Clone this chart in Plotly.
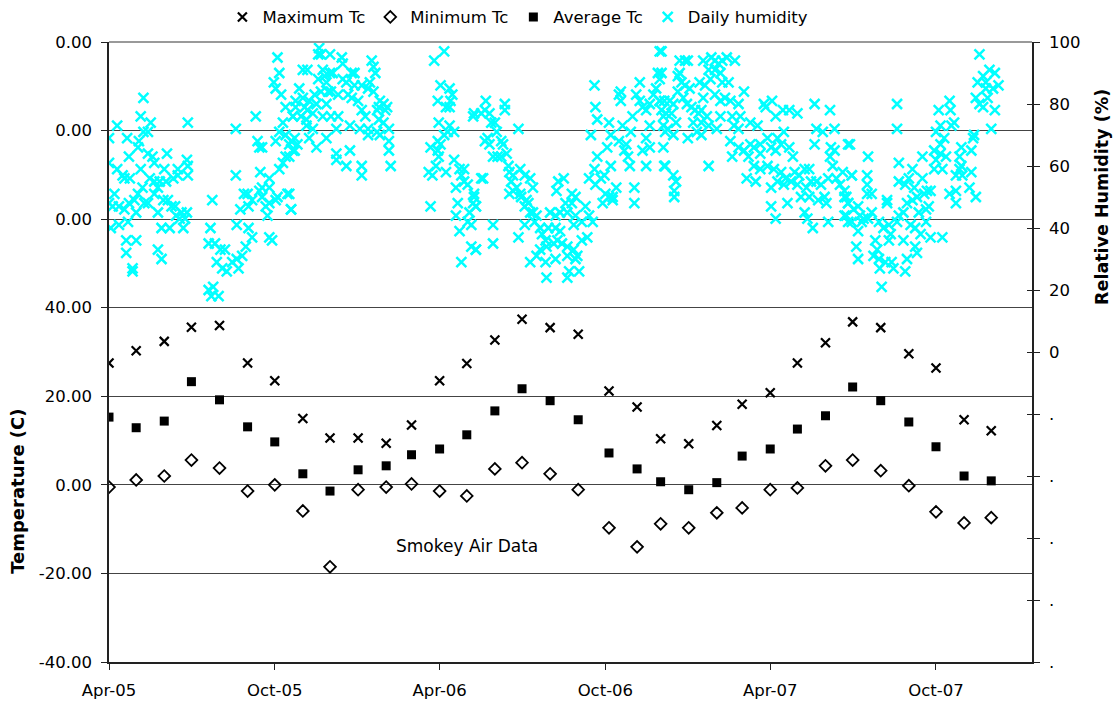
import pandas as pd
import plotly.graph_objects as go

FONT = "DejaVu Sans, Verdana, sans-serif"

# Monthly temperature summary (first reading of each month)
month_dates = [
    "2005-04-01", "2005-05-01", "2005-06-01", "2005-07-01", "2005-08-01", "2005-09-01",
    "2005-10-01", "2005-11-01", "2005-12-01", "2006-01-01", "2006-02-01", "2006-03-01",
    "2006-04-01", "2006-05-01", "2006-06-01", "2006-07-01", "2006-08-01", "2006-09-01",
    "2006-10-05", "2006-11-05", "2006-12-01", "2007-01-01", "2007-02-01", "2007-03-01",
    "2007-04-01", "2007-05-01", "2007-06-01", "2007-07-01", "2007-08-01", "2007-09-01",
    "2007-10-01", "2007-11-01", "2007-12-01",
]
max_tc = [27.5, 30.3, 32.4, 35.6, 36.0, 27.5, 23.5, 15.0, 10.6, 10.6, 9.4, 13.5,
          23.5, 27.4, 32.7, 37.4, 35.5, 34.0, 21.2, 17.6, 10.4, 9.3, 13.4, 18.2,
          20.8, 27.5, 32.1, 36.8, 35.5, 29.6, 26.4, 14.7, 12.2]
min_tc = [-0.5, 1.1, 2.0, 5.6, 3.8, -1.4, 0.0, -5.9, -18.5, -1.1, -0.5, 0.2,
          -1.4, -2.5, 3.6, 5.0, 2.5, -1.1, -9.7, -14.0, -8.8, -9.7, -6.3, -5.2,
          -1.1, -0.7, 4.3, 5.6, 3.2, -0.2, -6.1, -8.6, -7.4]
avg_tc = [15.3, 12.9, 14.4, 23.3, 19.2, 13.1, 9.7, 2.5, -1.4, 3.4, 4.3, 6.8,
          8.1, 11.3, 16.7, 21.7, 19.0, 14.7, 7.2, 3.6, 0.7, -1.1, 0.5, 6.5,
          8.1, 12.6, 15.6, 22.1, 19.0, 14.2, 8.6, 2.0, 0.9]

# Daily relative humidity readings: (days since 2005-04-01, RH %)
humidity_start = "2005-04-01"
rh_2005a = [
    (0, 69), (9, 73), (20, 69), (38, 82), (35, 76), (46, 74), (38, 71), (43, 71), (87, 74), (33, 68),
    (32, 66), (22, 63), (43, 64), (48, 63), (50, 61), (64, 64), (0, 61), (9, 59), (15, 57), (17, 56),
    (23, 56), (35, 59), (45, 56), (50, 55), (61, 59), (76, 59), (86, 62), (87, 60), (87, 57), (76, 57),
    (71, 56), (63, 55), (56, 55), (54, 53), (50, 51), (37, 53), (32, 51), (28, 49), (22, 48), (6, 51),
    (0, 48), (4, 47), (11, 47), (17, 46), (30, 45), (43, 48), (39, 48), (54, 45), (60, 49), (65, 49),
    (69, 47), (73, 47), (74, 44), (80, 45), (84, 43), (86, 45), (78, 43), (82, 40), (58, 40), (67, 40),
    (2, 40), (11, 41), (21, 42), (19, 36), (30, 36), (19, 32), (26, 27), (26, 26), (54, 33), (58, 30),
    (114, 49), (112, 40), (110, 35), (117, 35), (123, 33), (128, 33), (119, 29), (125, 27), (130, 26),
    (136, 29), (141, 30), (147, 31), (143, 27), (151, 34), (158, 37), (154, 40), (141, 41), (145, 46),
    (154, 47), (149, 51), (153, 51), (158, 49), (166, 52), (169, 50), (177, 48), (184, 49), (173, 47),
    (175, 44), (140, 57), (140, 72), (164, 68), (166, 66), (169, 66), (167, 58), (177, 56), (169, 53),
    (177, 53), (186, 50), (197, 51), (201, 46), (177, 37), (180, 36), (186, 95), (188, 90), (182, 87),
    (184, 85), (190, 83), (195, 79), (162, 76), (192, 74), (203, 76), (188, 71), (195, 70), (184, 68),
    (199, 67), (203, 65), (195, 63), (192, 61), (188, 59), (199, 63), (110, 20), (115, 21), (121, 18),
    (113, 18),
]
rh_2005b = [
    (232, 98), (234, 96), (231, 96), (244, 96), (257, 95), (258, 93), (214, 91), (219, 91), (236, 91),
    (244, 90), (238, 89), (247, 90), (231, 88), (240, 87), (258, 88), (268, 90), (271, 90), (262, 87),
    (271, 86), (290, 94), (292, 92), (294, 90), (288, 87), (279, 86), (286, 85), (210, 85), (206, 81),
    (214, 82), (221, 81), (227, 83), (234, 84), (242, 84), (245, 84), (229, 80), (240, 80), (253, 83),
    (264, 83), (268, 82), (275, 81), (292, 84), (299, 81), (307, 79), (303, 80), (298, 79), (206, 79),
    (216, 79), (219, 78), (225, 77), (212, 76), (218, 75), (203, 76), (236, 76), (245, 76), (253, 76),
    (279, 78), (283, 76), (296, 78), (305, 78), (298, 75), (303, 74), (218, 73), (225, 72), (251, 72),
    (266, 73), (277, 72), (286, 72), (296, 71), (309, 72), (205, 69), (201, 68), (208, 67), (205, 65),
    (221, 69), (240, 69), (229, 66), (286, 70), (299, 70), (309, 68), (251, 64), (266, 65), (251, 62),
    (262, 60), (279, 60), (279, 57), (309, 65), (311, 60), (199, 51), (201, 46),
]
rh_2006a = [
    (370, 97), (359, 94), (366, 86), (376, 85), (379, 83), (363, 81), (377, 81), (376, 79), (372, 79),
    (402, 76), (364, 74), (376, 73), (374, 71), (381, 71), (370, 70), (363, 68), (366, 67), (355, 66),
    (363, 65), (364, 63), (381, 62), (361, 60), (353, 58), (372, 58), (357, 57), (387, 59), (392, 59),
    (389, 57), (392, 55), (396, 54), (383, 53), (403, 51), (385, 48), (402, 48), (405, 47), (398, 45),
    (383, 44), (396, 42), (400, 41), (387, 39), (355, 47), (400, 34), (405, 33), (389, 29), (411, 56),
    (403, 77), (411, 77), (416, 81), (415, 78), (420, 77), (422, 74), (426, 74), (428, 71), (418, 69),
    (415, 68), (420, 67), (433, 68), (437, 80), (437, 78), (452, 72), (435, 67), (424, 63), (429, 63),
    (433, 63), (439, 64), (441, 60), (442, 58), (454, 59), (446, 57), (444, 55), (459, 57), (465, 56),
    (468, 53), (450, 53), (446, 52), (442, 51), (454, 51), (455, 50), (461, 49), (463, 48), (459, 47),
    (465, 45), (468, 45), (472, 44), (413, 56), (403, 50), (405, 47), (424, 41), (424, 35), (405, 33),
]
rh_2006b = [
    (452, 37), (459, 41), (470, 42), (476, 40), (478, 38), (482, 36), (483, 34), (487, 45), (493, 44),
    (485, 40), (493, 40), (498, 39), (495, 36), (491, 35), (500, 35), (506, 34), (476, 33), (472, 31),
    (465, 29), (482, 29), (493, 30), (506, 31), (513, 33), (517, 31), (522, 36), (528, 37), (515, 30),
    (519, 26), (508, 26), (506, 24), (483, 24), (496, 55), (502, 56), (494, 52), (511, 51), (515, 50),
    (504, 48), (498, 45), (511, 48), (506, 45), (515, 44), (526, 47), (530, 44), (522, 42), (534, 42),
    (513, 41), (536, 86), (537, 79), (539, 75), (532, 70), (539, 63), (536, 59), (530, 56), (537, 54),
    (543, 56), (547, 57), (554, 60), (550, 66), (554, 70), (552, 74), (563, 83), (565, 84), (565, 81),
    (567, 73), (563, 68), (571, 67), (569, 65), (573, 63), (575, 60), (580, 53), (580, 48), (548, 51),
    (552, 50), (545, 48), (556, 50), (560, 53), (556, 49), (576, 71), (582, 83), (586, 87), (586, 81),
    (589, 79), (593, 78), (597, 73), (593, 69), (589, 65), (593, 60), (597, 66), (606, 90), (608, 88),
    (604, 85), (601, 83), (608, 81), (597, 80), (610, 78), (612, 76), (610, 97), (614, 71), (614, 60),
    (578, 76),
]
rh_2007a = [
    (608, 97), (610, 90), (608, 81), (613, 81), (619, 81), (623, 80), (615, 77), (621, 77), (626, 74),
    (612, 73), (617, 72), (623, 70), (612, 66), (630, 94), (636, 94), (639, 94), (630, 90), (628, 89),
    (632, 87), (636, 86), (628, 84), (641, 85), (634, 82), (638, 80), (643, 79), (647, 78), (651, 77),
    (654, 78), (656, 94), (665, 95), (669, 94), (673, 93), (677, 94), (682, 95), (691, 94), (662, 91),
    (669, 91), (675, 90), (664, 88), (677, 87), (684, 87), (652, 87), (658, 86), (656, 82), (669, 83),
    (675, 81), (680, 82), (686, 81), (695, 80), (701, 84), (660, 76), (654, 74), (675, 76), (662, 73),
    (671, 72), (645, 74), (649, 71), (654, 70), (639, 69), (613, 60), (623, 57), (626, 55), (624, 52),
    (624, 50), (662, 60), (688, 76), (697, 76), (690, 73), (695, 72), (708, 74), (716, 73), (723, 80),
    (732, 81), (725, 79), (736, 76), (744, 78), (751, 78), (760, 77), (779, 80), (796, 78), (801, 72),
    (781, 72), (788, 71), (779, 67), (797, 66), (801, 65), (796, 63), (799, 60), (810, 58), (816, 67),
    (686, 68), (688, 63), (695, 66), (701, 65), (708, 67), (706, 63), (712, 66), (719, 67), (719, 64),
    (727, 69), (731, 66), (738, 69), (736, 65), (742, 67), (745, 71), (751, 66), (755, 63), (712, 60),
    (719, 59), (727, 60), (734, 59), (742, 58), (747, 56), (757, 58), (762, 57), (768, 59), (773, 59),
    (704, 56), (714, 55), (731, 53), (738, 55), (745, 54), (753, 55), (760, 54), (770, 53), (775, 55),
    (781, 55), (786, 54), (794, 56), (803, 56), (764, 50), (773, 50), (783, 49), (790, 50), (792, 48),
    (807, 54), (812, 52), (814, 50), (816, 48), (731, 47), (736, 43), (749, 48), (768, 45), (771, 43),
    (777, 40), (794, 42), (812, 44), (816, 42), (820, 57),
]
rh_2007b = [
    (812, 50), (816, 48), (822, 46), (827, 47), (829, 44), (814, 44), (820, 42), (831, 42), (827, 39),
    (833, 43), (838, 43), (842, 45), (837, 51), (842, 51), (818, 67), (820, 57), (838, 63), (837, 57),
    (837, 54), (825, 34), (827, 30), (846, 36), (848, 33), (844, 31), (850, 30), (851, 27), (857, 29),
    (861, 36), (863, 38), (866, 27), (864, 29), (853, 21), (879, 26), (881, 30), (877, 36), (870, 42),
    (850, 42), (855, 40), (861, 41), (872, 44), (877, 45), (885, 41), (890, 40), (890, 34), (892, 32),
    (896, 38), (907, 37), (920, 37), (902, 42), (870, 80), (870, 72), (872, 61), (872, 55), (879, 54),
    (883, 56), (887, 59), (889, 53), (859, 49), (859, 48), (881, 48), (887, 49), (892, 50), (894, 45),
    (902, 46), (905, 47), (898, 56), (900, 51), (903, 52), (907, 52), (898, 63), (911, 65), (918, 64),
    (913, 62), (911, 59), (920, 59), (924, 63), (918, 67), (913, 71), (918, 73), (922, 69), (916, 78),
    (928, 81), (929, 78), (930, 73), (933, 74), (941, 66), (939, 63), (939, 59), (935, 57), (942, 57),
    (941, 60), (952, 58), (935, 52), (935, 48), (928, 51), (950, 53), (957, 50), (952, 65), (954, 69),
    (955, 70), (961, 96), (959, 87), (965, 89), (968, 87), (972, 91), (978, 90), (968, 85), (976, 85),
    (982, 86), (957, 82), (961, 80), (965, 79), (970, 82), (978, 78), (974, 72),
]

temp_ticks = [-40, -20, 0, 20, 40, 60, 80, 100]
temp_tick_text = ["-40.00", "-20.00", "0.00", "20.00", "40.00", "0.00", "0.00", "0.00"]
rh_ticks = [-100, -80, -60, -40, -20, 0, 20, 40, 60, 80, 100]
rh_tick_text = [".", ".", ".", ".", ".", "0", "20", "40", "60", "80", "100"]
date_ticks = ["2005-04-01", "2005-10-01", "2006-04-01", "2006-10-01", "2007-04-01", "2007-10-01"]
date_tick_text = ["Apr-05", "Oct-05", "Apr-06", "Oct-06", "Apr-07", "Oct-07"]

# Combine the humidity chunks into dated series
rh_pairs = rh_2005a + rh_2005b + rh_2006a + rh_2006b + rh_2007a + rh_2007b
rh_dates = [pd.Timestamp(humidity_start) + pd.Timedelta(days=d) for d, _ in rh_pairs]
rh_values = [v for _, v in rh_pairs]
months = pd.to_datetime(month_dates)

fig = go.Figure()
fig.add_trace(go.Scatter(
    x=months, y=max_tc, mode="markers", name="Maximum Tc",
    marker=dict(symbol="x-thin", size=9, color="black", line=dict(color="black", width=2.2)),
))
fig.add_trace(go.Scatter(
    x=months, y=min_tc, mode="markers", name="Minimum Tc",
    marker=dict(symbol="diamond-open", size=9, color="black", line=dict(color="black", width=1.8)),
))
fig.add_trace(go.Scatter(
    x=months, y=avg_tc, mode="markers", name="Average Tc",
    marker=dict(symbol="square", size=9, color="black"),
))
fig.add_trace(go.Scatter(
    x=rh_dates, y=rh_values, mode="markers", name="Daily humidity", yaxis="y2",
    marker=dict(symbol="x-thin", size=10, color="#00FFFF", line=dict(color="#00FFFF", width=2.5)),
))
# carrier for the inner tick marks on the humidity axis
fig.add_trace(go.Scatter(x=[], y=[], yaxis="y3", showlegend=False, hoverinfo="skip"))

fig.update_layout(
    width=1115, height=702,
    margin=dict(l=109, r=83, t=42, b=40, autoexpand=False),
    paper_bgcolor="white", plot_bgcolor="white",
    font=dict(family=FONT, size=16.5, color="black"),
    showlegend=True,
    legend=dict(
        orientation="h", x=0.443, xanchor="center", y=1.04, yanchor="middle",
        font=dict(family=FONT, size=16.5), itemwidth=30, bgcolor="rgba(0,0,0,0)",
        tracegroupgap=0,
    ),
    xaxis=dict(
        type="date", range=["2005-04-01", "2008-01-15"],
        tickvals=date_ticks, ticktext=date_tick_text,
        ticks="outside", ticklen=6, tickcolor="#222", ticklabelstandoff=6,
        showgrid=False, zeroline=False, automargin=False,
        showline=True, linecolor="#222", linewidth=1.5,
    ),
    yaxis=dict(
        range=[-40, 100], tickvals=temp_ticks, ticktext=temp_tick_text,
        ticks="outside", ticklen=6, tickcolor="#222", ticklabelstandoff=6,
        showgrid=True, gridcolor="#444", gridwidth=1, zeroline=False, automargin=False,
        showline=True, linecolor="#222", linewidth=1.5,
    ),
    yaxis2=dict(
        range=[-100, 100], tickvals=rh_ticks, ticktext=rh_tick_text,
        overlaying="y", side="right", anchor="x",
        ticks="outside", ticklen=6, tickcolor="#222", ticklabelstandoff=6,
        showgrid=False, zeroline=False, automargin=False,
        showline=True, linecolor="#222", linewidth=1.5,
    ),
    yaxis3=dict(
        range=[-100, 100], tickvals=rh_ticks,
        overlaying="y", side="right", anchor="x",
        ticks="inside", ticklen=5, tickcolor="#222", automargin=False,
        showticklabels=False, showgrid=False, zeroline=False, showline=False,
    ),
    shapes=[dict(
        type="line", xref="paper", yref="paper", x0=0, x1=1, y0=1, y1=1,
        line=dict(color="#999", width=2),
    )],
    annotations=[
        dict(text="<b>Temperature (C)</b>", xref="paper", yref="paper",
             x=-0.0986, y=0.276, xanchor="center", yanchor="middle",
             textangle=-90, showarrow=False, font=dict(family=FONT, size=18)),
        dict(text="<b>Relative Humidity (%)</b>", xref="paper", yref="paper",
             x=1.0758, y=0.75, xanchor="center", yanchor="middle",
             textangle=-90, showarrow=False, font=dict(family=FONT, size=17.5)),
        dict(text="Smokey Air Data", xref="paper", yref="paper",
             x=0.3879, y=0.187, xanchor="center", yanchor="middle",
             showarrow=False, font=dict(family=FONT, size=17)),
    ],
)

fig.write_html("out.html")
